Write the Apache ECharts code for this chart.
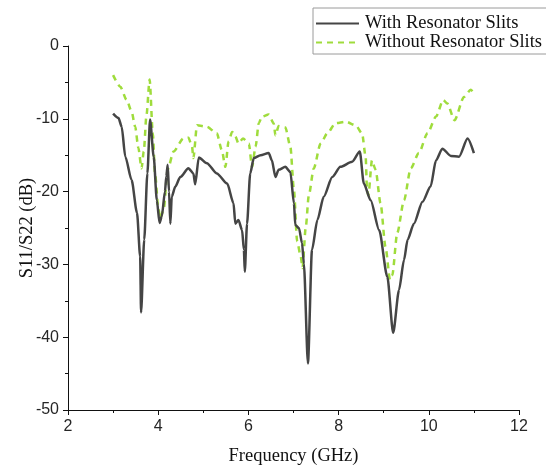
<!DOCTYPE html>
<html>
<head>
<meta charset="utf-8">
<script src="https://cdn.jsdelivr.net/npm/echarts@6/dist/echarts.min.js"></script>
<style>
  html, body { margin: 0; padding: 0; background: #fff; }
  #chart { width: 546px; height: 469px; }
</style>
</head>
<body>
<div id="chart"></div>
<script>
  // frequency (GHz) and S11/S22 (dB)
  const freqWith = [3.00, 3.12, 3.19, 3.27, 3.41, 3.53, 3.60, 3.62, 3.69, 3.76, 3.82, 3.90, 3.97, 4.03, 4.08, 4.15, 4.18, 4.21, 4.24, 4.27, 4.30, 4.38, 4.49, 4.67, 4.78, 4.82, 4.90, 5.08, 5.30, 5.53, 5.67, 5.71, 5.78, 5.86, 5.90, 5.92, 5.97, 6.04, 6.12, 6.27, 6.45, 6.52, 6.60, 6.67, 6.82, 6.93, 7.01, 7.04, 7.12, 7.19, 7.23, 7.32, 7.41, 7.53, 7.67, 7.86, 8.04, 8.30, 8.47, 8.56, 8.71, 8.90, 9.08, 9.21, 9.34, 9.45, 9.53, 9.67, 9.86, 10.04, 10.16, 10.30, 10.49, 10.67, 10.86, 11.00]
  const s11With = [-9.3, -9.9, -11.1, -15.2, -18.4, -22.9, -28.9, -36.6, -26.6, -17.5, -10.1, -15.2, -21.2, -24.3, -23.4, -20.0, -17.9, -16.3, -20.0, -24.4, -20.7, -19.3, -18.0, -16.8, -17.5, -19.0, -15.3, -16.1, -17.5, -18.9, -21.6, -24.4, -23.9, -25.3, -28.0, -31.0, -24.4, -17.5, -15.4, -15.0, -14.7, -15.7, -18.0, -17.0, -16.6, -17.3, -21.6, -24.6, -25.0, -27.1, -29.9, -43.6, -28.0, -23.9, -20.7, -18.0, -16.6, -15.9, -14.5, -18.9, -21.2, -25.3, -31.7, -39.4, -33.5, -29.4, -26.6, -24.4, -21.4, -19.3, -15.7, -14.1, -15.1, -15.2, -12.7, -14.7]

  const freqWithout = [3.00, 3.16, 3.30, 3.41, 3.49, 3.56, 3.63, 3.68, 3.74, 3.81, 3.88, 3.93, 4.00, 4.04, 4.12, 4.21, 4.34, 4.56, 4.67, 4.75, 4.78, 4.86, 5.08, 5.30, 5.41, 5.49, 5.56, 5.64, 5.71, 5.78, 5.88, 6.01, 6.08, 6.16, 6.23, 6.30, 6.45, 6.56, 6.60, 6.67, 6.82, 6.93, 7.01, 7.08, 7.16, 7.20, 7.27, 7.34, 7.45, 7.60, 7.75, 7.93, 8.16, 8.38, 8.52, 8.60, 8.63, 8.66, 8.74, 8.82, 8.93, 9.04, 9.14, 9.19, 9.30, 9.45, 9.60, 9.78, 9.97, 10.16, 10.32, 10.41, 10.57, 10.78, 10.93, 11.00]
  const s11Without = [-4.0, -5.6, -7.4, -9.0, -11.1, -14.0, -16.8, -14.5, -9.5, -4.6, -12.0, -17.5, -22.1, -23.7, -22.5, -17.0, -14.5, -12.7, -12.6, -13.8, -15.4, -10.9, -11.1, -12.0, -14.3, -16.6, -13.1, -11.8, -12.4, -13.4, -12.7, -13.4, -16.6, -13.8, -10.6, -9.7, -9.4, -10.6, -12.3, -11.0, -11.2, -13.8, -19.8, -26.8, -28.9, -30.5, -25.0, -20.5, -16.8, -13.4, -12.0, -10.6, -10.4, -10.9, -12.0, -15.2, -19.8, -20.5, -15.7, -17.0, -21.6, -27.6, -32.1, -31.5, -25.7, -21.2, -16.8, -14.7, -12.0, -9.7, -7.4, -7.9, -10.2, -7.0, -6.0, -6.5]

  const xTicks = { min: 2, max: 12, step: 2 }
  const yTicks = { min: -50, max: 0, step: 10 }

  const toPairs = (xs, ys) => xs.map((x, i) => [x, ys[i]])

  const chart = echarts.init(document.getElementById('chart'), null, { renderer: 'canvas' })

  const serif = '"Liberation Serif", "DejaVu Serif", serif'
  const sans = '"Liberation Sans", Arial, sans-serif'

  chart.setOption({
    animation: false,
    backgroundColor: '#fff',
    grid: { left: 68, right: 27, top: 46, bottom: 59, outerBoundsMode: 'none', containLabel: false },
    legend: {
      orient: 'vertical',
      left: 313,
      top: 8,
      padding: [6, 6, 2, 2],
      itemWidth: 43,
      itemHeight: 14,
      itemGap: 0,
      borderColor: '#9a9a9a',
      borderWidth: 1,
      itemStyle: { opacity: 0 },
      textStyle: { fontFamily: serif, fontSize: 18.5, lineHeight: 17, color: '#111', padding: [0, 0, 0, 1] },
      data: ['With Resonator Slits', 'Without Resonator Slits']
    },
    xAxis: {
      type: 'value',
      min: xTicks.min,
      max: xTicks.max,
      interval: xTicks.step,
      name: 'Frequency (GHz)',
      nameLocation: 'middle',
      nameGap: 37,
      nameMoveOverlap: false,
      nameTextStyle: { fontFamily: serif, fontSize: 18.5, color: '#111' },
      axisLine: { onZero: false, lineStyle: { color: '#111', width: 1 } },
      axisTick: { inside: false, length: 5, lineStyle: { color: '#111' } },
      minorTick: { show: true, splitNumber: 2, length: 3, lineStyle: { color: '#111' } },
      axisLabel: { fontFamily: sans, fontSize: 16, color: '#262626', margin: 9 },
      splitLine: { show: false }
    },
    yAxis: {
      type: 'value',
      min: yTicks.min,
      max: yTicks.max,
      interval: yTicks.step,
      name: 'S11/S22 (dB)',
      nameLocation: 'middle',
      nameGap: 31,
      nameMoveOverlap: false,
      nameRotate: 90,
      nameTextStyle: { fontFamily: serif, fontSize: 18.5, color: '#111' },
      axisLine: { show: true, onZero: false, lineStyle: { color: '#111', width: 1 } },
      axisTick: { show: true, inside: false, length: 5, lineStyle: { color: '#111' } },
      minorTick: { show: true, splitNumber: 2, length: 3, lineStyle: { color: '#111' } },
      axisLabel: { fontFamily: sans, fontSize: 16, color: '#262626', margin: 9 },
      splitLine: { show: false }
    },
    series: [
      {
        name: 'With Resonator Slits',
        type: 'line',
        data: toPairs(freqWith, s11With),
        symbol: 'none',
        smooth: 0.25,
        smoothMonotone: 'x',
        color: '#454545',
        lineStyle: { color: '#454545', width: 2.5 },
        z: 3
      },
      {
        name: 'Without Resonator Slits',
        type: 'line',
        data: toPairs(freqWithout, s11Without),
        symbol: 'none',
        smooth: 0.25,
        smoothMonotone: 'x',
        color: '#9fdc3c',
        lineStyle: { color: '#9fdc3c', width: 2.5, type: [6, 5] },
        z: 2
      }
    ]
  })
</script>
</body>
</html>
